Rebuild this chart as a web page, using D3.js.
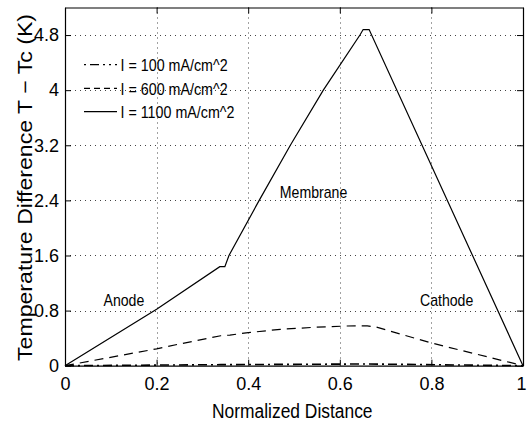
<!DOCTYPE html>
<html><head><meta charset="utf-8">
<script src="https://cdn.jsdelivr.net/npm/d3@7"></script>
<style>
html,body{margin:0;padding:0;background:#fff;}
svg{display:block;font-family:"Liberation Sans",Arial,Helvetica,sans-serif;}
</style></head>
<body><svg id="c" width="527" height="423"></svg>
<script>
// ---- data ----
const xTicks = [0, 0.2, 0.4, 0.6, 0.8, 1];
const yTicks = [0, 0.8, 1.6, 2.4, 3.2, 4, 4.8];
const xTickLabels = ["0", "0.2", "0.4", "0.6", "0.8", "1"];
const yTickLabels = ["0", "0.8", "1.6", "2.4", "3.2", "4", "4.8"];
const seriesNames = ["I = 100 mA/cm^2", "I = 600 mA/cm^2", "I = 1100 mA/cm^2"];
const x100 = [0, 0.34, 0.66, 1];
const y100 = [0, 0.015, 0.025, 0];
const x600 = [0, 0.2, 0.25, 0.34, 0.36, 0.4, 0.47, 0.543, 0.615, 0.66, 0.68, 0.8, 1];
const y600 = [0, 0.245, 0.315, 0.435, 0.445, 0.48, 0.528, 0.557, 0.576, 0.578, 0.56, 0.33, 0];
const x1100 = [0, 0.2, 0.338, 0.349, 0.358, 0.424, 0.492, 0.564, 0.644, 0.651, 0.664, 1];
const y1100 = [0, 0.82, 1.437, 1.437, 1.6, 2.4, 3.2, 4.0, 4.8, 4.88, 4.88, 0];
const regionNames = ["Anode", "Membrane", "Cathode"];
const regionX = [0.084, 0.469, 0.775];
const regionY = [0.866, 2.428, 0.866];
const xTitle = "Normalized Distance";
const yTitle = "Temperature Difference T \u2212 Tc (K)";

// ---- layout ----
const svg = d3.select("#c");
const L = 65, R = 523, T = 7.5, B = 365.7;
const x = d3.scaleLinear().domain([0, 1]).range([L, R]);
const y = d3.scaleLinear().domain([0, 5.2]).range([B, T]);

function condense(sel, ratio) {
  sel.each(function() {
    const w = this.getComputedTextLength();
    d3.select(this).attr("textLength", w * ratio).attr("lengthAdjust", "spacingAndGlyphs");
  });
}

// grid
const grid = svg.append("g").attr("stroke", "#444").attr("stroke-width", 1).attr("stroke-dasharray", "1,4");
grid.selectAll(".gx").data(xTicks.filter(d => d > 0 && d < 1)).join("line")
  .attr("x1", d => Math.round(x(d)) + 0.5).attr("x2", d => Math.round(x(d)) + 0.5)
  .attr("y1", T).attr("y2", B);
grid.selectAll(".gy").data(yTicks.filter(d => d > 0)).join("line")
  .attr("y1", d => Math.round(y(d)) + 0.5).attr("y2", d => Math.round(y(d)) + 0.5)
  .attr("x1", L).attr("x2", R);

// axes (MATLAB style inward ticks, boxed)
const axB = d3.axisBottom(x).tickValues(xTicks).tickFormat((d, i) => xTickLabels[i]).tickSizeInner(-6).tickSizeOuter(0).tickPadding(12);
const axT = d3.axisTop(x).tickValues(xTicks).tickFormat("").tickSizeInner(-6).tickSizeOuter(0);
const axL = d3.axisLeft(y).tickValues(yTicks).tickFormat((d, i) => yTickLabels[i]).tickSizeInner(-6).tickSizeOuter(0).tickPadding(6);
const axR = d3.axisRight(y).tickValues(yTicks).tickFormat("").tickSizeInner(-6).tickSizeOuter(0);

function style(g) {
  g.selectAll("path").attr("stroke", "#000").attr("stroke-width", 1.2);
  g.selectAll("line").attr("stroke", "#000");
  g.selectAll("text").attr("fill", "#000").attr("font-size", 18).attr("font-family", '"Liberation Sans",Arial,sans-serif');
}
const gB = svg.append("g").attr("transform", `translate(0,${B})`).call(axB).call(style);
gB.selectAll(".tick text").filter(d => d === 1).attr("dx", -2);
svg.append("g").attr("transform", `translate(0,${T})`).call(axT).call(style);
svg.append("g").attr("transform", `translate(${L},0)`).call(axL).call(style);
svg.append("g").attr("transform", `translate(${R},0)`).call(axR).call(style);

// lines
const line = d3.line().x(d => x(d[0])).y(d => y(d[1]));
const s100 = x100.map((v, i) => [v, y100[i]]);
const s600 = x600.map((v, i) => [v, y600[i]]);
const s1100 = x1100.map((v, i) => [v, y1100[i]]);
const dashes = ["9,4,2,4", "9,6", null];
const data = [s100, s600, s1100];
data.forEach((s, i) => {
  svg.append("path").datum(s).attr("d", line).attr("fill", "none")
    .attr("stroke", "#000").attr("stroke-width", i === 0 ? 1.6 : 1.2)
    .attr("stroke-dasharray", dashes[i]);
});

// region annotations
const ann = svg.append("g").attr("font-size", 17).attr("fill", "#000");
ann.selectAll("text").data(regionNames).join("text")
  .attr("x", (d, i) => x(regionX[i])).attr("y", (d, i) => y(regionY[i])).text(d => d)
  .call(condense, 0.83);

// legend
const lg = svg.append("g");
const rowY = [64.7, 88.3, 111.7];
seriesNames.forEach((n, i) => {
  lg.append("line").attr("x1", 84).attr("x2", 117).attr("y1", rowY[i]).attr("y2", rowY[i])
    .attr("stroke", "#000").attr("stroke-width", 1.2).attr("stroke-dasharray", dashes[i] ? (i === 0 ? "2,4,9,4,2,4" : "6,4") : null);
  lg.append("text").attr("x", 120.5).attr("y", rowY[i] + 6.5).attr("font-size", 17).text(n)
    .call(condense, 0.84);
});

// axis titles
svg.append("text").attr("x", 212).attr("y", 417.7).attr("font-size", 20).text(xTitle).call(condense, 0.87);
svg.append("text").attr("transform", "translate(31.7,361) rotate(-90)").attr("font-size", 20).text(yTitle)
  .each(function() { d3.select(this).attr("textLength", 347).attr("lengthAdjust", "spacingAndGlyphs"); });
</script></body></html>
